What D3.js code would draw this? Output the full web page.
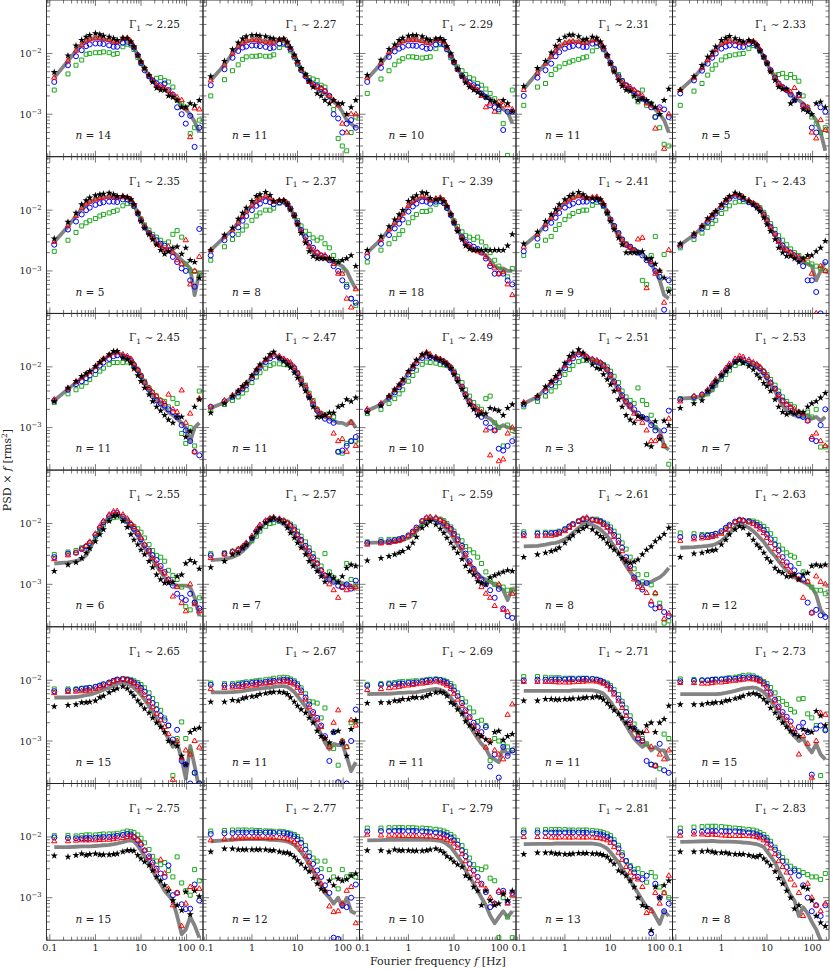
<!DOCTYPE html>
<html><head><meta charset="utf-8">
<script src="https://cdn.jsdelivr.net/npm/d3@7"></script>
<style>body{margin:0;background:#fff}text{font-family:"DejaVu Serif",serif;fill:#222}</style>
</head><body><svg id="c" width="830" height="970"></svg>
<script>
// Fourier frequencies (Hz)
const freqs = [0.125,0.25,0.375,0.5,0.625,0.75,1.0,1.25,1.5,2,2.5,3,4,5,6,7,8.5,10,12,15,18,22,27,33,40,50,62,78,96,120,150,190];
const gammas = ["2.25","2.27","2.29","2.31","2.33","2.35","2.37","2.39","2.41","2.43","2.45","2.47","2.49","2.51","2.53","2.55","2.57","2.59","2.61","2.63","2.65","2.67","2.69","2.71","2.73","2.75","2.77","2.79","2.81","2.83"];
const nObs = [14,11,10,11,5, 5,8,18,9,8, 11,11,10,3,7, 6,7,7,8,12, 15,11,11,11,15, 15,12,10,13,8];
const xTickValues = [0.1,1,10,100];
const xTickLabels = ["0.1","1","10","100"];
const yTickValues = [1e-3,1e-2];
const yTickExps = ["\u22123","\u22122"];
const UNIT = 1e-4; // PSD x f values below are in units of 1e-4 rms^2

const black = [
[49,92,134,166,188,200,214,205,195,188,177,166,180,176,156,129,94,73,57,44,34,27,25,25,20,19,17,13,13,15,14,17],
[42,75,116,150,175,190,200,200,195,190,180,175,170,175,155,125,95,75,57,45,35,28,22,20,17,15,17,15,15,10,13,17],
[44,78,118,140,165,180,195,200,198,190,175,165,175,178,165,130,100,75,55,42,33,28,25,23,21,19,17,16,14,17,15,11],
[29,57,75,103,133,166,188,201,201,191,168,173,188,180,156,129,94,68,50,36,29,25,24,20,17,18,17,15,13,10,17,26],
[25,42,64,88,106,129,166,180,192,177,166,156,166,156,137,110,88,68,50,36,28,26,26,15,17,22,12,11,10,15,16,13],
[34,64,90,124,144,160,174,181,185,192,181,170,170,163,150,124,90,66,51,40,33,27,22,19,21,24,25,19,24,15,14,7.7],
[22,39,51,72,90,109,141,170,181,198,177,141,144,144,124,102,80,58,42,29,21,17.5,16,16,16,16,15,14,15,16,18,12],
[22,37,54,70,85,100,141,160,175,195,190,158,150,155,140,115,85,62,45,33,26,23,22,22,22,22,22,22,22,22,26,40],
[28,44,66,85,103,124,150,170,185,198,181,160,156,156,150,124,90,66,48,35,27,20,20,20,20,21,16,16,13,10,7.7,4.6],
[28,41,54,73,85,96,124,150,170,193,181,163,141,124,109,96,75,58,45,33,24,20,17.5,17.5,16,14,16,18,18,21,24,31],
[27,45,58,70,78,85,103,119,135,160,181,181,141,132,116,93,72,58,45,35,27,22,19,16,13.5,12,15,15,7,8.7,22,29],
[17.5,25,33,40,48,54,72,90,109,135,160,176,141,124,110,97,80,66,51,40,31,22,15,15,16,17.5,17.5,22,23.5,29,27,31],
[18,23,33,42,51,62,85,105,130,160,170,150,140,130,120,110,95,75,58,43,32,24,20,16,17,17,21,20,19,16,21,24],
[25,33,47,58,70,85,116,150,170,193,170,132,109,96,92,75,62,51,40,29,22,16,13.5,12,15.4,14.5,5.3,4.9,12.7,6.5,13,11],
[21,25,28,40,48,58,72,85,100,119,128,116,103,90,75,66,54,48,40,29,22,18,16.5,18,17,18,18,22,25,27,31,37],
[16.5,21,23,27,33,39,51,66,80,110,132,136,110,87,66,54,45,37,31,24,19,14.4,12,10.5,10.5,11,13.5,14.4,22,25,23,18],
[19,24,31,33,40,45,58,73,85,103,116,124,116,103,85,70,58,48,40,31,24,20,16.4,13.5,11,14.4,12.8,11,13.5,18.6,21,20],
[24.5,27,29,31,33,35,40,48,60,85,96,109,96,82,70,58,48,40,33,26,20,16.4,14.4,11.2,10.5,10,13,14,15,16,17,16.5],
[28,31,33,35,37,40,48,57,64,75,83,90,80,70,62,57,48,42,37,32,27,23.5,22.5,23.5,25.5,31,37,42,51,58,67,85],
[28,32,33,35,36,37,45,54,66,80,90,85,66,54,45,40,33,27,23.5,18.6,16.4,15.4,13.5,13.5,14.4,12,14.4,15.4,20,21,20,21],
[37,39,40,43,43,44,46,52,55,63,69,73,79,73,63,55,46,40,34,29,24,20,17,14,10,9.4,8.3,5.7,4.1,14,15.6,16.5],
[44,44,47,46,50,52,54,55,59,61,63,64,64,63,59,52,44,38,33,29,24,20,14.6,12,11,9.4,14,14.6,9.4,5.7,15.6,22],
[42,43,43,46,46,49,49,52,52,52,55,59,63,64,62,55,43,40,33,28,21,18,16,13,12,10.6,9.4,14,14.6,10.4,12,13],
[46,46,49,49,48,48,49,49,50,50,51,52,52,54,52,48,42,37,32,28,24,20,17,16,14,13.7,18,20,14,20,23,38],
[40,40,40,42,42,43,43,46,47,50,52,55,59,61,59,55,49,43,35,29,24,20,17,14.6,13,12,15.6,14.6,14,31,26,18],
[49,47,50,53,50,52,53,51,51,51,52,53,57,60,60,59,50,44,39,34,28,22,19,16,13,9,7.5,6.2,12.5,5.3,13,10.5],
[57,64,64,62,62,62,62,62,62,62,60,60,57,55,55,52,47,41,36,31,27,21,17,14,13,19,16,20.5,19,20,23,25],
[60,60,57,62,60,60,60,59,59,59,60,62,64,60,55,48,44,39,35,32,23,21,15,13,7.5,13,9,7.5,8,11.5,9,13],
[52,55,55,55,53,53,52,52,53,54,54,54,53,53,52,50,47,41,36,28,26,23,19,15,10,7.5,7,2.9,15,10,16,19],
[57,57,58,59,57,55,55,55,53,52,52,52,50,48,47,50,44,39,34,27,21,17,13,10,6.6,7.5,15,14,9,5,3.9,3.4]
];
const red = [
[40,76,111,137,162,170,177,177,175,166,156,154,177,180,156,129,94,73,57,44,36,30,28,27,24,21,19,17,12.5,4.2,12.5,12],
[36,65,100,130,150,160,165,165,160,155,150,150,170,170,150,122,92,72,55,43,34,30,28,27,24,20,17,14,7,5,10,10],
[40,70,105,130,150,158,165,168,165,160,150,148,170,172,155,125,95,72,55,42,35,30,28,25,20,13,15,11,16,14,14,12],
[25,48,68,88,110,130,148,155,158,155,150,150,165,168,150,125,92,68,52,40,33,30,28,25,22,20,15,14,5.8,12,2.7,10],
[25,40,58,78,95,115,145,155,160,160,150,148,160,158,140,115,88,70,52,40,32,28,25,23,27,20,14,13,5,4,8,5.5],
[30,56,80,108,125,138,150,158,162,168,168,165,168,162,150,124,92,70,55,42,35,28,26,22,25,20,15,13,32,6,10,17],
[22,37,48,62,80,95,120,140,155,170,160,138,145,145,128,105,82,60,45,32,25,22,20,18,18,16,13,9,9,3.5,2.5,5],
[20,33,48,62,75,88,118,140,155,170,165,148,155,160,145,118,88,65,48,35,28,25,22,21,20,17,13,11,9,9.5,6,4],
[25,40,58,75,92,110,135,150,160,170,168,160,162,165,150,128,95,70,52,40,32,27,24,22,33,35,5.2,14,9,10,3,22],
[27,40,55,70,82,95,120,145,165,185,175,162,145,130,118,105,85,68,52,40,30,24,22,20,18,17,15,17,9,2,12,10],
[29,44,56,66,75,82,100,118,135,155,170,175,160,150,135,112,90,72,55,45,38,33,28,25,35,20,18,41,12,17,4,30],
[22,28,34,40,47,54,70,88,105,130,150,168,150,135,125,118,100,80,62,48,35,27,20,17,16,16,8,6,6.5,4,12,5],
[20,25,33,42,50,60,82,102,125,155,172,160,145,135,125,115,100,80,62,47,35,27,22,20,18,9,3.5,9,2.8,3,8,10],
[26,33,44,55,65,78,105,132,150,172,165,148,135,128,118,105,90,72,55,42,32,26,22,17,14,12,9,6,6,7,5,14],
[27,33,35,42,52,62,78,95,112,135,150,145,130,118,110,100,85,70,55,43,33,27,24,22,20,18,17,13,7,8,6,5],
[26,30,33,38,43,50,68,90,110,140,158,160,140,120,100,88,72,58,45,35,27,22,18,15,12,6.3,9,4.9,3.6,10,4.7,3.6],
[27,31,35,38,42,48,62,80,95,112,122,126,120,112,103,92,78,64,52,40,32,26,22,17,14,10,8,6,9,8,9,9],
[45,47,48,50,52,55,62,72,82,110,125,128,125,115,105,92,80,65,52,40,30,22,17,13,9,7,6,4.4,10,3.8,3.5,7],
[62,62,63,63,65,68,75,85,95,110,120,125,115,110,105,95,85,72,60,48,35,25,18,12,9,8.7,7.2,5.2,7.2,4.1,2.7,3.3],
[52,55,57,58,60,62,68,78,90,105,115,112,105,98,90,80,70,58,48,38,30,24,20,16,14,12,6,11,3.4,13.5,11,10],
[62,64,65,66,67,68,72,76,80,88,95,100,105,100,95,88,78,68,57,45,36,28,22,17,13,2.3,10,5.3,7,6,10,7.8],
[72,75,76,77,78,80,82,84,86,88,90,92,95,95,95,90,85,75,62,48,36,28,22,17,11,8,20,32,10,8,22,18],
[69,72,74,76,78,80,82,84,86,88,90,92,95,92,88,82,72,60,48,38,30,24,18,14,12,7.8,10,7,6,5,27,40],
[94,94,94,94,93,92,92,92,93,94,95,96,96,95,92,88,80,70,58,46,35,26,20,15,12,10,14.6,8,3.9,6,5,7],
[90,90,88,88,90,92,92,94,96,98,100,102,104,103,100,95,85,72,58,45,35,27,22,18,15,6,12,9,2.5,10,29,27],
[85,85,87,88,88,88,88,89,90,90,92,94,96,100,102,100,90,78,60,45,35,28,42,25,14,7.5,12,3.4,8,15,14,14],
[88,92,94,95,95,96,96,96,96,96,95,95,96,95,92,88,82,75,62,48,38,28,22,17,13,7.2,5.8,6,8,13,15,3.8],
[109,106,105,105,105,104,104,104,103,103,102,102,100,98,95,90,85,78,66,52,40,30,24,19,16,14,10,8,13,12,8,11],
[100,100,100,98,98,98,98,98,98,98,98,98,98,96,95,92,88,80,68,55,42,32,26,22,20,15,5.6,6,12,8,12,23],
[105,110,110,108,110,108,106,105,104,104,104,104,103,102,100,95,88,78,65,52,40,32,26,20,16,12,5,17,10,7.5,6,8]
];
const blue = [
[34,64,90,113,132,141,146,146,143,136,129,129,150,156,146,125,94,70,53,42,36,32,30,32,25,21,13,10,7,9.4,2.9,6],
[30,55,85,110,125,130,135,135,132,128,122,125,145,150,140,118,90,70,53,42,35,31,29,26,24,20,10,8.5,5,7,8,6],
[34,58,88,108,120,128,135,135,133,128,120,122,140,150,140,118,92,72,55,43,36,33,30,28,22,19,14,13,12,5.5,11,11],
[20,40,53,68,90,105,120,128,133,135,128,128,145,150,140,120,92,70,55,42,35,30,26,24,22,18,16,13,9,13,12,9],
[22,36,52,68,85,100,120,130,136,136,128,128,145,148,135,112,88,70,53,40,32,28,25,21,17,21,14,12,6,5,13,11],
[27,48,65,85,100,110,122,130,135,138,138,136,150,150,140,118,88,68,52,42,36,32,28,26,22,17,14,11,10,7,5.5,49],
[18,32,40,52,67,80,100,118,128,140,135,125,135,138,125,105,82,62,47,36,29,24,20,18,17,15,12,10,7,5.5,3.5,3],
[17,28,39,50,60,70,95,115,128,140,138,128,138,142,130,108,83,62,47,36,30,27,25,23,20,16,12,9,9,9,7,6],
[21,34,50,62,75,90,110,120,128,135,138,138,145,150,140,120,92,70,55,42,33,27,25,22,20,18,15,13,10,8,2.3,7],
[26,38,50,64,76,88,112,135,155,172,165,152,135,125,115,102,85,68,53,41,32,26,22,20,18,16,12,7,7,4.5,2,14],
[28,42,52,58,65,72,88,105,118,135,150,155,148,140,128,108,88,70,55,42,33,28,25,23,20,18,15,11,9,6,4,3.5],
[22,27,32,38,44,50,65,82,98,120,138,150,140,128,118,110,95,78,60,45,32,24,19,16,14,13,12,4,4.2,5,6,7],
[19,24,31,38,46,55,75,95,115,140,152,145,138,128,120,110,95,80,62,47,35,27,22,18,15,12,10,9,4.5,4.2,5,6],
[24,31,40,50,60,70,95,118,138,160,158,145,130,122,115,105,90,74,57,45,34,27,23,20,17,15,14,11,9,7,9,19],
[29,32,35,40,48,57,72,88,103,122,135,132,122,112,105,95,82,68,55,44,35,28,24,21,18,16,15,13,6.5,6,11,20],
[28,32,33,38,42,48,65,85,105,132,148,148,130,112,95,82,68,55,44,36,30,25,20,16,12,9.5,7,6,5.5,7,5,4],
[30,32,34,36,40,46,58,74,90,108,118,120,115,108,100,92,80,66,54,43,35,28,22,17,14,12,11,9.5,9,10,8.5,11.5],
[48,50,51,53,55,58,64,74,86,110,122,122,118,110,102,92,82,68,55,43,32,24,18,14,12,10,8,6,8.4,4,3,2.8],
[67,68,68,69,70,72,80,90,98,110,118,120,115,112,108,100,90,78,65,52,40,28,20,13,10.5,8.2,10.5,4.6,4,4.2,3.5,3],
[60,60,62,63,65,68,75,85,95,108,115,112,108,102,95,88,78,66,55,45,36,28,23,20,17,14,12,5,3.4,3.8,3.1,2.9],
[66,68,70,72,73,75,78,82,86,92,98,103,105,102,98,92,85,75,65,52,42,33,26,22,18,10.6,15.3,4.7,4.1,2,3,2],
[84,82,82,84,86,88,90,92,92,94,96,98,100,102,100,98,92,82,68,52,40,30,24,18,12,4.7,14,2.1,9.4,2,10,33],
[81,84,86,86,88,88,90,90,92,95,98,100,102,100,95,90,80,68,55,42,32,25,20,17,14,17,3.8,6,2.5,8,5.7,7],
[100,102,102,102,103,103,103,104,104,104,105,105,105,102,98,92,85,75,62,50,40,30,22,16,11,10,4.7,4.1,3.9,9,3.3,3],
[96,98,100,100,102,102,103,104,105,106,108,110,112,110,106,100,90,78,62,48,37,30,25,21,13.7,17,20,14,2.8,16,18,15],
[98,96,95,95,96,96,97,98,100,100,102,104,108,112,110,100,88,75,60,48,38,30,25,22,34,11,12,7.8,6.5,6.6,16.5,9],
[112,115,116,118,118,118,118,118,118,118,118,116,116,115,112,108,102,92,80,62,48,36,28,22,16,12,2.2,2.1,7.5,7,10,16.5],
[123,125,125,126,126,126,126,126,125,124,122,120,118,115,110,105,98,88,75,60,48,36,28,22,17,12.4,7,8,12.4,13,8.5,12],
[118,118,118,118,118,118,118,118,118,118,117,117,115,113,110,106,100,92,80,65,50,40,32,26,22,20,23,2.6,17,10,6,8],
[120,122,122,124,124,124,124,124,124,124,122,120,118,115,110,105,98,88,75,62,50,40,32,26,28,23,16,10,6,7.5,5,7.5]
];
const green = [
[25,46,64,78,97,100,103,103,106,103,97,100,129,142,137,116,86,68,57,42,36,39,40,36,34,28,17,15,13,4.8,6,8],
[20,37,52,65,80,88,90,90,92,90,90,95,125,140,135,110,85,66,55,45,40,38,36,30,28,20,12,4,3,2.5,5,9],
[22,38,52,65,75,82,88,88,86,84,86,88,120,140,140,115,85,70,60,52,45,40,38,32,30,26,22,18,11,7,2.1,25],
[14,28,32,45,55,60,68,72,76,80,85,88,110,130,135,115,90,70,57,45,36,30,25,20,16,25,14,15,9,6,3.2,3],
[14,24,32,44,55,65,78,88,92,95,98,100,120,135,130,110,86,68,53,44,45,47,40,45,40,35,20,13,9,7,5,6],
[21,32,43,55,62,67,73,80,85,90,95,100,118,128,130,115,90,72,57,47,40,36,32,28,30,40,46,36,13,10,9.8,9],
[15,25,33,40,47,55,68,80,90,100,100,108,130,140,130,108,85,68,55,45,40,35,32,35,28,24,18,14,10,6,3.5,2.7],
[14,22,28,34,40,46,62,75,85,95,95,100,125,138,132,110,85,67,54,44,38,36,33,36,30,25,20,15,12,10,8,11],
[18,26,32,37,48,58,70,80,88,95,100,100,120,135,135,115,88,70,55,42,33,28,25,22,20,7,6,18,37,8,18.6,5],
[24,33,42,52,60,68,88,105,118,135,140,138,135,128,120,110,92,75,60,48,38,32,27,23,20,18,16,14,13,12,11,10],
[26,36,42,48,55,62,75,85,95,110,118,118,118,120,118,105,88,72,58,45,38,33,28,27,22,30,25,8,5.5,10,5,40],
[20,24,28,32,37,42,55,68,80,95,105,112,112,110,108,105,95,80,65,50,37,28,20,17,16,16,15,4,3.8,5.5,6,6],
[17,20,25,30,36,42,58,72,88,110,120,118,115,110,108,105,98,85,70,55,42,33,26,22,20,30,33,12,10,5,11,9],
[22,27,33,40,47,55,75,90,105,122,128,128,125,118,115,110,100,85,70,55,40,32,28,25,45,28,24,16,10,7,5,2.5],
[30,30,33,36,42,50,62,75,88,105,115,118,115,108,102,95,85,75,62,50,40,32,27,24,22,18,16,18,15,20,4.8,4.8],
[31,34,36,40,42,46,60,78,95,115,125,128,118,108,98,90,82,72,58,45,36,30,28,24,17,14,12,9,4.3,3.8,5,6],
[32,33,35,37,40,44,52,62,75,90,100,103,108,110,105,98,88,75,62,50,40,32,25,20,32,16,13,11,9,22,12,10],
[50,54,55,55,56,57,62,70,80,100,112,115,120,118,112,100,88,75,62,52,42,37,33,28,22,16,12,10,9.5,9,8,8],
[73,72,72,72,72,75,82,90,98,108,115,118,118,118,112,105,98,88,75,62,48,38,28,18,14.4,11,14.4,9.8,7,4.9,2.3,2.5],
[70,68,66,66,66,68,72,82,92,105,112,112,112,110,105,98,90,80,68,55,44,38,33,30,28,22,16,11,9,8,8,7],
[72,72,72,74,75,76,78,82,86,92,98,103,106,105,102,98,92,85,75,62,50,40,32,24,18,2.7,11,20.6,11,6.7,3,2],
[90,88,88,90,92,94,96,98,100,102,104,108,110,112,110,105,98,88,75,60,45,44,42,24,35,9,7.5,4,10,8,20,20.6],
[86,88,90,92,94,95,96,97,98,100,102,104,105,103,100,95,88,78,62,50,44,35,30,21,22,18,4.8,11,10,9,8,7],
[115,115,112,110,110,110,108,108,108,108,108,108,106,104,100,95,90,82,70,58,45,35,26,19,14,11,9,4.1,4,3.5,13,11],
[105,103,100,100,102,105,105,108,110,112,115,120,122,118,110,105,95,88,76,62,50,45,40,33,30,49,50,28,24,18,2.7,15.6],
[105,106,104,106,108,108,108,110,112,112,112,115,120,125,122,118,108,95,80,62,48,40,35,38,28,22,47,17.5,13,11,29,19],
[125,128,130,130,130,130,130,128,128,126,125,124,124,122,118,115,110,102,90,72,55,45,40,30,40,29,22,14,29,22,24,22],
[140,140,142,142,142,142,142,142,140,140,138,136,134,130,125,118,110,100,88,72,58,45,35,30,29,32,21,19,2.2,10,4.8,2.2],
[130,130,132,132,132,132,132,130,130,130,130,130,128,125,122,118,112,105,90,73,55,41,34,29,30,25,18,26,22,15,12,10],
[140,145,148,150,150,150,148,145,142,140,138,135,133,130,125,118,110,98,85,68,55,46,40,33,30,28,26,24,22,22,20,25]
];
const gray = [
[40,75,110,140,160,170,180,178,172,165,156,152,170,172,152,125,92,71,55,43,35,30,27,26,23,20,17,14,12,10,7.5,5],
[36,65,100,128,148,158,165,165,162,158,150,150,168,170,150,122,92,72,55,43,34,29,26,24,22,19,16,14,11,8,7,6],
[38,68,100,128,148,158,165,168,165,160,150,150,165,170,155,125,95,72,55,43,35,30,27,25,22,20,18,16,14,12,11,7],
[26,48,68,90,112,130,148,155,158,155,148,148,162,165,148,123,92,68,52,40,32,28,26,23,20,18,16,14,12,10,8,5],
[25,40,58,78,95,115,145,155,160,158,148,145,158,155,138,113,87,68,52,40,32,27,24,21,19,17,15,12,10,8,5,2.5],
[30,54,80,105,122,135,150,157,162,166,163,158,162,158,145,120,90,68,53,41,34,28,25,22,21,20,18,15,13,11,4,9.5],
[22,36,48,62,80,95,120,140,152,165,155,135,142,142,126,105,80,60,45,33,25,20,18,17,16,15,14,13,12,10,7,5],
[20,33,47,60,73,86,115,135,148,162,155,140,148,152,138,115,85,63,47,35,28,25,23,22,20,18,15,12,11,11,10,10],
[26,40,58,75,92,108,132,148,160,170,165,155,160,160,148,125,92,68,50,38,30,26,24,22,21,19,16,13,10,7,4,3.5],
[27,39,52,67,80,92,118,142,160,178,170,155,138,125,113,100,82,65,50,38,30,24,21,19,17,15,14,13,12,7,10,14],
[28,43,55,66,75,82,100,118,133,155,170,172,155,145,130,108,87,70,54,42,34,28,24,21,18,16,14,12,10,6,10,12],
[21,26,32,38,45,52,68,85,102,128,148,162,140,128,118,108,92,75,58,44,32,24,18,16,15,14,13,12,12,11,13,10],
[19,24,31,40,48,57,80,100,122,150,162,148,138,128,118,108,92,75,58,43,32,25,21,19,17,15,14,12,10,11,10,10],
[25,32,44,55,65,78,105,130,150,170,162,145,130,120,112,100,85,70,55,42,32,25,21,18,16,15,14,12,10,9,5,4.3],
[30,31,33,36,42,52,68,85,100,122,132,125,115,105,98,88,75,62,50,40,30,23,19,17,16,15,15,16,14,15,13,15],
[22,23,24,26,30,38,58,80,100,128,145,145,125,105,88,75,62,50,40,32,25,20,16,13,11,10,9.5,9.5,9.5,9,6,3],
[25,26,28,31,35,40,52,68,82,102,112,115,108,98,88,78,66,55,45,36,28,22,18,15,13,12,11,10.5,10.5,10,9.5,8],
[48,49,50,51,52,54,58,65,75,100,115,118,110,100,90,80,68,55,45,35,27,22,18,15,13,12,11,10,9,8,5.5,8.8],
[42,43,45,47,48,50,55,62,70,85,98,102,95,88,80,72,62,52,42,33,26,20,16,13,11,10,10.5,11,12,13,15,18.6],
[40,41,42,43,44,46,52,60,70,88,98,95,85,75,66,58,50,42,35,29,24,20,17,15,13,12,11,10,9,6.7,3.8,3],
[52,52,53,55,57,58,62,66,70,76,82,88,92,88,82,75,66,57,48,38,30,23,18,14,11,8,9.4,5,2.4,8.3,3.9,1.6],
[63,63,64,65,66,68,70,72,73,75,76,78,80,80,78,72,64,55,46,37,29,22,17,13,9.4,7.3,9,8.5,9,5.5,3.2,4.5],
[59,60,60,61,62,62,63,63,64,66,68,70,72,70,66,60,52,44,36,29,23,18,14,11,9,7.5,5.5,5,4.5,7.8,6,7],
[67,67,67,67,67,67,67,67,68,68,68,68,68,66,64,60,52,44,36,29,23,18,14,11,9.4,8,9,7,8,7,7,4.7],
[59,59,59,59,59,59,60,62,64,67,70,73,75,76,74,70,64,56,46,37,29,23,18,14,12,10,11,8,6.5,9,6,5],
[68,68,69,70,70,70,71,72,73,74,76,78,82,86,88,84,72,60,48,37,28,21,17,13,11,9,5,2.5,3,4.8,3.5,2.2],
[85,88,90,91,92,92,92,92,92,91,90,90,88,86,84,80,74,66,56,45,35,27,21,16,12,10,8,10,7,10,6,5.5],
[88,89,90,90,90,90,90,90,90,90,90,90,88,86,82,76,68,58,48,38,28,22,17,13,10,7.5,5.1,3.8,4.8,6,4.8,6],
[76,77,77,77,78,78,78,78,78,78,78,78,78,76,74,70,64,56,47,38,30,24,19,15,12,9,7,6.6,5,3.7,6,5],
[83,84,85,85,86,85,84,84,84,83,82,81,80,78,76,73,68,58,48,38,28,21,15,11,9,5,7,5.5,4,3,2,1.5]
];

const svg = d3.select("#c");
const left0 = 46.5, pw = 156.5, ph = 156.7, ncol = 5;
const x = d3.scaleLog().domain([0.0845, 229]).range([0, pw]);
const y = d3.scaleLog().domain([2.0e-4, 0.0758]).range([ph, 0]);

svg.append("defs").append("clipPath").attr("id","clip")
  .append("rect").attr("x",0).attr("y",0).attr("width",pw).attr("height",ph);

const isMajor = t => Math.abs(Math.log10(t) - Math.round(Math.log10(t))) < 1e-6;
const xt = x.ticks().filter(t => t > x.domain()[0] && t < x.domain()[1]);
const yt = y.ticks().filter(t => t > y.domain()[0] * 1.001 && t < y.domain()[1]);

const symStar = d3.symbol().type(d3.symbolStar).size(16);
const symTri = d3.symbol().type(d3.symbolTriangle).size(12);
const symSq = d3.symbol().type(d3.symbolSquare).size(16);
const symCirc = d3.symbol().type(d3.symbolCircle).size(20);

const line = d3.line().x(d => x(d[0])).y(d => y(d[1]));

const markerSeries = [
  {data: green, sym: symSq, stroke: "#1fa81f", fill: "none"},
  {data: blue, sym: symCirc, stroke: "#0000ff", fill: "none"},
  {data: red, sym: symTri, stroke: "#ff0000", fill: "none"},
  {data: black, sym: symStar, stroke: "none", fill: "#000"}
];

for (let p = 0; p < 30; p++) {
  const col = p % ncol, row = Math.floor(p / ncol);
  const g = svg.append("g").attr("transform", `translate(${left0 + col * pw},${row * ph})`);
  const plot = g.append("g").attr("clip-path", "url(#clip)");

  const gpts = freqs.map((f, i) => [f, gray[p][i] * UNIT]);
  plot.append("path").attr("d", line(gpts)).attr("fill","none")
    .attr("stroke","#848484").attr("stroke-width",3.8).attr("stroke-linejoin","round");

  markerSeries.forEach(s => {
    plot.selectAll(null).data(freqs.map((f, i) => [f, s.data[p][i] * UNIT])).enter()
      .append("path").attr("d", s.sym())
      .attr("transform", d => `translate(${x(d[0])},${y(d[1])})`)
      .attr("fill", s.fill).attr("stroke", s.stroke).attr("stroke-width", 1);
  });

  // ticks (inward on all four sides)
  const tk = g.append("g").attr("stroke","#555").attr("stroke-width",0.8);
  xt.forEach(t => {
    const L = isMajor(t) ? 6 : 3.5, xx = x(t);
    tk.append("line").attr("x1",xx).attr("x2",xx).attr("y1",ph).attr("y2",ph - L);
    tk.append("line").attr("x1",xx).attr("x2",xx).attr("y1",0).attr("y2",L);
  });
  yt.forEach(t => {
    const L = isMajor(t) ? 6 : 3.5, yy = y(t);
    tk.append("line").attr("x1",0).attr("x2",L).attr("y1",yy).attr("y2",yy);
    tk.append("line").attr("x1",pw).attr("x2",pw - L).attr("y1",yy).attr("y2",yy);
  });
  g.append("rect").attr("width",pw).attr("height",ph).attr("fill","none")
    .attr("stroke","#222").attr("stroke-width",0.9);

  // labels
  const gt = g.append("text").attr("x", pw - 23).attr("y", 28).attr("text-anchor","end")
    .attr("font-size", 10.5);
  gt.append("tspan").text("\u0393");
  gt.append("tspan").attr("font-size",7.5).attr("dy",2.5).text("1");
  gt.append("tspan").attr("dy",-2.5).text(" \u223C " + gammas[p]);

  const nt = g.append("text").attr("x", 29).attr("y", 139).attr("font-size", 10.5);
  nt.append("tspan").attr("font-style","italic").text("n");
  nt.append("tspan").text(" = " + nObs[p]);

  if (row === 5) {
    xTickValues.forEach((v, i) => {
      g.append("text").attr("x", x(v)).attr("y", ph + 10.5).attr("text-anchor","middle")
        .attr("font-size", 9.5).text(xTickLabels[i]);
    });
  }
  if (col === 0) {
    yTickValues.forEach((v, i) => {
      const t = g.append("text").attr("x", -5).attr("y", y(v) + 3.5).attr("text-anchor","end")
        .attr("font-size", 9.5);
      t.append("tspan").text("10");
      t.append("tspan").attr("font-size",6.8).attr("dy",-3.8).text(yTickExps[i]);
    });
  }
}

const yl = svg.append("text").attr("transform","translate(11,470) rotate(-90)")
  .attr("text-anchor","middle").attr("font-size",11);
yl.append("tspan").text("PSD \u00D7 ");
yl.append("tspan").attr("font-style","italic").text("f");
yl.append("tspan").text(" [rms");
yl.append("tspan").attr("font-size",7.5).attr("dy",-3.8).text("2");
yl.append("tspan").attr("dy",3.8).text("]");

const xl = svg.append("text").attr("x",437.8).attr("y",965).attr("text-anchor","middle").attr("font-size",11);
xl.append("tspan").text("Fourier frequency ");
xl.append("tspan").attr("font-style","italic").text("f");
xl.append("tspan").text(" [Hz]");
</script></body></html>
